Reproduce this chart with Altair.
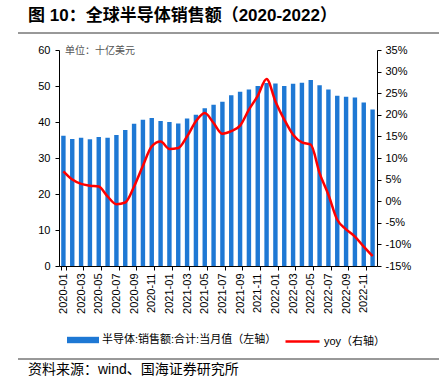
import altair as alt
import pandas as pd

months = ["2020-01", "2020-02", "2020-03", "2020-04", "2020-05", "2020-06",
          "2020-07", "2020-08", "2020-09", "2020-10", "2020-11", "2020-12",
          "2021-01", "2021-02", "2021-03", "2021-04", "2021-05", "2021-06",
          "2021-07", "2021-08", "2021-09", "2021-10", "2021-11", "2021-12",
          "2022-01", "2022-02", "2022-03", "2022-04", "2022-05", "2022-06",
          "2022-07", "2022-08", "2022-09", "2022-10", "2022-11", "2022-12"]

sales = [36.2, 35.3, 35.6, 35.2, 35.8, 35.6, 36.4, 37.8, 39.5, 40.6, 41.1, 40.3,
         40.0, 39.6, 41.0, 42.0, 43.8, 44.8, 45.6, 47.4, 48.4, 49.0, 50.0, 50.8,
         50.7, 50.0, 50.6, 50.9, 51.7, 50.2, 49.0, 47.3, 47.0, 46.8, 45.4, 43.5]

yoy = [6.9, 5.0, 4.0, 3.6, 3.4, 1.1, -0.7, -0.3, 3.4, 8.2, 12.7, 13.8,
       12.1, 12.3, 15.0, 18.5, 20.4, 18.1, 15.6, 16.2, 17.5, 21.2, 24.4, 28.3,
       23.1, 18.9, 15.4, 13.6, 13.1, 6.5, 1.5, -4.3, -6.5, -8.2, -10.5, -12.7]

label_months = months[0::2]
left_ticks = [0, 10, 20, 30, 40, 50, 60]
right_ticks = [-15, -10, -5, 0, 5, 10, 15, 20, 25, 30, 35]

bar_name = "半导体:销售额:合计:当月值（左轴）"
line_name = "yoy（右轴）"
title_text = "图 10：全球半导体销售额（2020-2022）"
unit_text = "单位：十亿美元"
source_text = "资料来源：wind、国海证券研究所"

BLUE = "#1E78D4"
RED = "#FF0000"
LATIN = "Liberation Sans"
CJK = "Liberation Sans, Noto Sans CJK SC"

df = pd.DataFrame({
    "month": months,
    "sales": sales,
    "yoy": yoy,
    "sbar": [bar_name] * len(months),
    "sline": [line_name] * len(months),
})

x_enc = alt.X(
    "month:N", sort=months,
    scale=alt.Scale(paddingInner=0.5, paddingOuter=0.25),
    axis=alt.Axis(values=label_months, labelAngle=-90, title=None,
                  tickBand="extent", tickSize=4, labelPadding=3,
                  labelFont=LATIN, labelFontSize=11, labelColor="black",
                  domainColor="black", tickColor="black", labelAlign="right",
                  labelBaseline="middle"),
)

bars = alt.Chart(df).mark_bar().encode(
    x=x_enc,
    y=alt.Y("sales:Q", scale=alt.Scale(domain=[0, 60], nice=False),
            axis=alt.Axis(values=left_ticks, title=None, tickSize=4, labelPadding=5,
                          labelFont=LATIN, labelFontSize=11, labelColor="black",
                          domainColor="black", tickColor="black", grid=False)),
    fill=alt.Fill("sbar:N", scale=alt.Scale(domain=[bar_name], range=[BLUE]),
                  legend=alt.Legend(orient="none", legendX=8, legendY=274, title=None,
                                    symbolType="M-1,-0.2H1V0.2H-1Z", symbolSize=1024,
                                    symbolStrokeWidth=0, labelFont=CJK, labelFontSize=11,
                                    labelColor="black", padding=0, labelOffset=3,
                                    labelLimit=400)),
)

line = alt.Chart(df).mark_line(strokeWidth=2.5, interpolate="monotone").encode(
    x=alt.X("month:N", sort=months),
    y=alt.Y("yoy:Q", scale=alt.Scale(domain=[-15, 35], nice=False),
            axis=alt.Axis(orient="right", values=right_ticks, title=None, tickSize=4,
                          labelPadding=4, labelExpr="datum.value + '%'",
                          labelFont=LATIN, labelFontSize=11, labelColor="black",
                          domainColor="black", tickColor="black", grid=False)),
    stroke=alt.Stroke("sline:N", scale=alt.Scale(domain=[line_name], range=[RED]),
                      legend=alt.Legend(orient="none", legendX=225, legendY=273, title=None,
                                        symbolType="stroke", symbolSize=1156,
                                        symbolStrokeWidth=2.5, labelFont=CJK,
                                        labelFontSize=11, labelColor="black",
                                        padding=0, labelOffset=3, labelLimit=400)),
)

one = pd.DataFrame({"t": [0]})

title_mark = alt.Chart(one).mark_text(
    text=title_text, font=CJK, fontSize=17, fontWeight="bold", align="left",
    baseline="middle", color="black").encode(x=alt.value(-31), y=alt.value(-34))

unit_mark = alt.Chart(one).mark_text(
    text=unit_text, font=CJK, fontSize=10, align="left", baseline="middle",
    color="#555555").encode(x=alt.value(6), y=alt.value(1))

source_mark = alt.Chart(one).mark_text(
    text=source_text, font=CJK, fontSize=14, align="left", baseline="middle",
    color="black").encode(x=alt.value(-31), y=alt.value(320))

top_rule = alt.Chart(one).mark_rule(color="#333333", strokeWidth=1).encode(
    x=alt.value(-41), x2=alt.value(380), y=alt.value(-17))
bottom_rule = alt.Chart(one).mark_rule(color="#333333", strokeWidth=1).encode(
    x=alt.value(-41), x2=alt.value(380), y=alt.value(309))

chart = alt.layer(bars, line, title_mark, unit_mark, source_mark, top_rule, bottom_rule).resolve_scale(
    y="independent", fill="independent", stroke="independent"
).properties(
    width=318, height=216,
    autosize=alt.AutoSizeParams(type="none"),
    padding={"left": 59, "top": 50, "right": 62, "bottom": 110},
    background="white",
).configure_view(stroke=None)

chart.save("out.html", embed_options={"renderer": "svg", "actions": False})
